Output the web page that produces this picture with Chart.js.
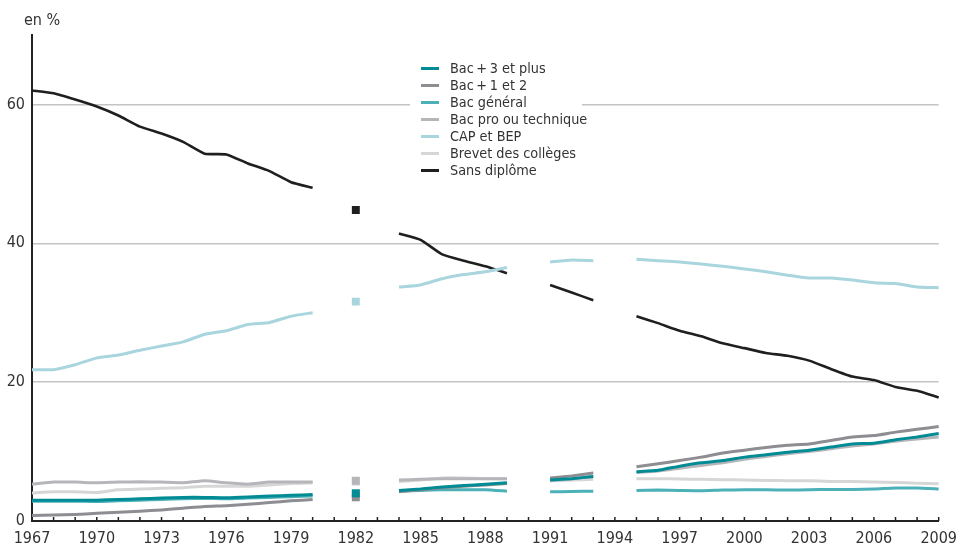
<!DOCTYPE html>
<html>
    <head>
        <meta charset="utf-8">
        <title>Diplômes - en %</title>
        <script src="https://cdn.jsdelivr.net/npm/chart.js@4.4.1/dist/chart.umd.min.js"></script>
        <style>
            body { margin: 0; background: #fff; }
            #wrap { position: relative; width: 965px; height: 549px; font-family: "Liberation Sans Narrow", "DejaVu Sans Condensed", sans-serif; color: #333; }
            #unit { position: absolute; left: 24px; top: 10px; font-size: 16px; }
            #legend { position: absolute; left: 410px; top: 60px; width: 172px; background: #fff; padding: 0 0 2px 0; }
            .row { height: 17px; line-height: 17px; font-size: 14.3px; white-space: nowrap; }
            .row span.swatch { display: inline-block; width: 18px; height: 3px; margin: 0 11px 0 11px; vertical-align: middle; position: relative; top: -1px; }
        </style>
    </head>
    <body>
        <div id="wrap">
            <canvas id="chart" width="965" height="549"></canvas>
            <div id="unit">en %</div>
            <div id="legend"></div>
        </div>

        <script>
            // years 1967 -> 2009 (gaps in 1981, 1983, 1990, 1994)
            const years = ["1967","1968","1969","1970","1971","1972","1973","1974","1975","1976","1977","1978","1979","1980",
                           "1981","1982","1983","1984","1985","1986","1987","1988","1989","1990","1991","1992","1993","1994",
                           "1995","1996","1997","1998","1999","2000","2001","2002","2003","2004","2005","2006","2007","2008","2009"];
            const xLabels = ["1967","1970","1973","1976","1979","1982","1985","1988","1991","1994","1997","2000","2003","2006","2009"];
            const yTicks = [0, 20, 40, 60];

            const bac3 = [3.0,3.0,3.0,3.0,3.1,3.2,3.3,3.4,3.4,3.35,3.45,3.6,3.7,3.8,
                          null,4.0,null,
                          4.4,4.6,4.9,5.1,5.3,5.5,
                          null,5.9,6.1,6.4,null,
                          7.1,7.3,7.9,8.4,8.7,9.2,9.55,9.9,10.2,10.65,11.1,11.2,11.7,12.1,12.6];
            const bac12 = [0.8,0.85,0.95,1.1,1.25,1.4,1.6,1.85,2.1,2.2,2.4,2.65,2.9,3.1,
                           null,3.4,null,
                           4.2,4.5,4.8,5.0,5.2,5.4,
                           null,6.2,6.5,6.9,null,
                           7.8,8.25,8.7,9.2,9.8,10.2,10.6,10.9,11.1,11.6,12.1,12.3,12.8,13.2,13.6];
            const bacGeneral = [2.85,2.85,2.85,2.8,2.9,3.0,3.1,3.2,3.25,3.2,3.3,3.4,3.5,3.6,
                                null,3.9,null,
                                4.3,4.4,4.5,4.5,4.5,4.3,
                                null,4.2,4.25,4.3,null,
                                4.4,4.45,4.4,4.35,4.45,4.5,4.5,4.45,4.5,4.55,4.55,4.6,4.75,4.75,4.6];
            const bacPro = [5.3,5.6,5.6,5.5,5.6,5.65,5.6,5.5,5.8,5.5,5.3,5.6,5.6,5.6,
                            null,5.8,null,
                            5.9,6.0,6.1,6.1,6.1,6.1,
                            null,5.8,6.1,6.4,null,
                            7.0,7.2,7.6,8.0,8.4,8.9,9.3,9.7,10.0,10.4,10.8,11.1,11.5,11.8,12.1];
            const capBep = [21.8,21.8,22.5,23.5,23.9,24.6,25.2,25.8,26.9,27.4,28.3,28.6,29.5,30.0,
                            null,31.6,null,
                            33.7,34.0,34.9,35.5,35.9,36.5,
                            null,37.3,37.6,37.5,null,
                            37.7,37.5,37.3,37.0,36.7,36.3,35.9,35.4,35.0,35.0,34.7,34.3,34.2,33.7,33.6];
            const brevet = [4.05,4.2,4.2,4.1,4.5,4.6,4.7,4.8,5.0,5.0,5.0,5.2,5.4,5.5,
                            null,5.7,null,
                            5.7,5.9,6.2,6.2,6.1,6.1,
                            null,5.8,5.9,6.0,null,
                            6.1,6.1,6.05,6.0,5.95,5.9,5.85,5.8,5.8,5.7,5.7,5.6,5.55,5.45,5.35];
            const sansDiplome = [62.0,61.6,60.7,59.7,58.4,56.8,55.8,54.6,52.9,52.8,51.5,50.4,48.8,48.0,
                                 null,44.8,null,
                                 41.4,40.5,38.4,37.5,36.7,35.7,
                                 null,34.0,32.9,31.8,null,
                                 29.5,28.5,27.4,26.6,25.6,24.9,24.2,23.8,23.1,21.9,20.8,20.3,19.3,18.75,17.8];

            const seriesNames = ["Bac\u2009+\u20093 et plus", "Bac\u2009+\u20091 et 2", "Bac général", "Bac pro ou technique", "CAP et BEP", "Brevet des collèges", "Sans diplôme"];
            const seriesData = [bac3, bac12, bacGeneral, bacPro, capBep, brevet, sansDiplome];
            const seriesColors = ["#008b95", "#8d8d92", "#4cb0b9", "#b6b6ba", "#a9d5de", "#d6d6d6", "#1f1f1f"];

            // a lone value (no neighbours) is drawn as a small square
            function loneRadius(ctx){
                const d = ctx.dataset.data;
                const i = ctx.dataIndex;
                if(d[i] == null) return 0;
                const prev = i > 0 ? d[i-1] : null;
                const next = i < d.length-1 ? d[i+1] : null;
                return (prev == null && next == null) ? 5.6 : 0;
            }

            let datasets = [];
            for(let i=0; i < seriesNames.length; i++){
                datasets.push({
                    label: seriesNames[i],
                    data: seriesData[i],
                    borderColor: seriesColors[i],
                    backgroundColor: seriesColors[i],
                    borderWidth: i == 6 ? 2.6 : 3,
                    tension: 0.15,
                    spanGaps: false,
                    pointStyle: 'rect',
                    pointRadius: loneRadius,
                    pointBorderWidth: 0,
                    pointHoverRadius: 0
                });
            }

            // small year ticks pointing up from the x axis
            const yearTicks = {
                id: 'yearTicks',
                afterDraw(chart){
                    const ctx = chart.ctx;
                    const x = chart.scales.x;
                    const bottom = chart.chartArea.bottom;
                    ctx.save();
                    ctx.strokeStyle = "#222";
                    ctx.lineWidth = 1.5;
                    for(let i=0; i < years.length; i++){
                        const px = x.getPixelForValue(i);
                        ctx.beginPath();
                        ctx.moveTo(px, bottom - 4);
                        ctx.lineTo(px, bottom);
                        ctx.stroke();
                    }
                    ctx.restore();
                }
            };

            const tickFont = { family: "'Liberation Sans Narrow', 'DejaVu Sans Condensed', sans-serif", size: 16 };

            new Chart(document.getElementById("chart"), {
                type: 'line',
                data: { labels: years, datasets: datasets },
                plugins: [yearTicks],
                options: {
                    responsive: false,
                    animation: false,
                    layout: { padding: { top: 35, right: 25, left: 0, bottom: 0 } },
                    plugins: { legend: { display: false }, tooltip: { enabled: false } },
                    scales: {
                        x: {
                            offset: false,
                            grid: { display: false, drawTicks: false },
                            border: { display: true, color: "#222", width: 2 },
                            ticks: {
                                autoSkip: false,
                                maxRotation: 0,
                                padding: 8,
                                color: "#333",
                                font: tickFont,
                                callback: function(value){
                                    const y = years[value];
                                    return xLabels.includes(y) ? y : "";
                                }
                            },
                            afterFit: function(scale){ scale.height = 28; }
                        },
                        y: {
                            min: 0,
                            max: 70,
                            afterBuildTicks: function(scale){
                                scale.ticks = yTicks.map(v => ({ value: v }));
                            },
                            grid: {
                                drawTicks: false,
                                lineWidth: 1.5,
                                color: function(ctx){ return ctx.tick && ctx.tick.value == 0 ? "rgba(0,0,0,0)" : "#c4c4c4"; }
                            },
                            border: { display: true, color: "#222", width: 2 },
                            ticks: { padding: 7, color: "#333", font: tickFont },
                            afterFit: function(scale){ scale.width = 32; }
                        }
                    }
                }
            });

            // legend
            let legendHtml = "";
            for(let i=0; i < seriesNames.length; i++){
                legendHtml += '<div class="row"><span class="swatch" style="background:' + seriesColors[i] + '"></span>' + seriesNames[i] + '</div>';
            }
            document.getElementById("legend").innerHTML = legendHtml;
        </script>
    </body>
</html>
